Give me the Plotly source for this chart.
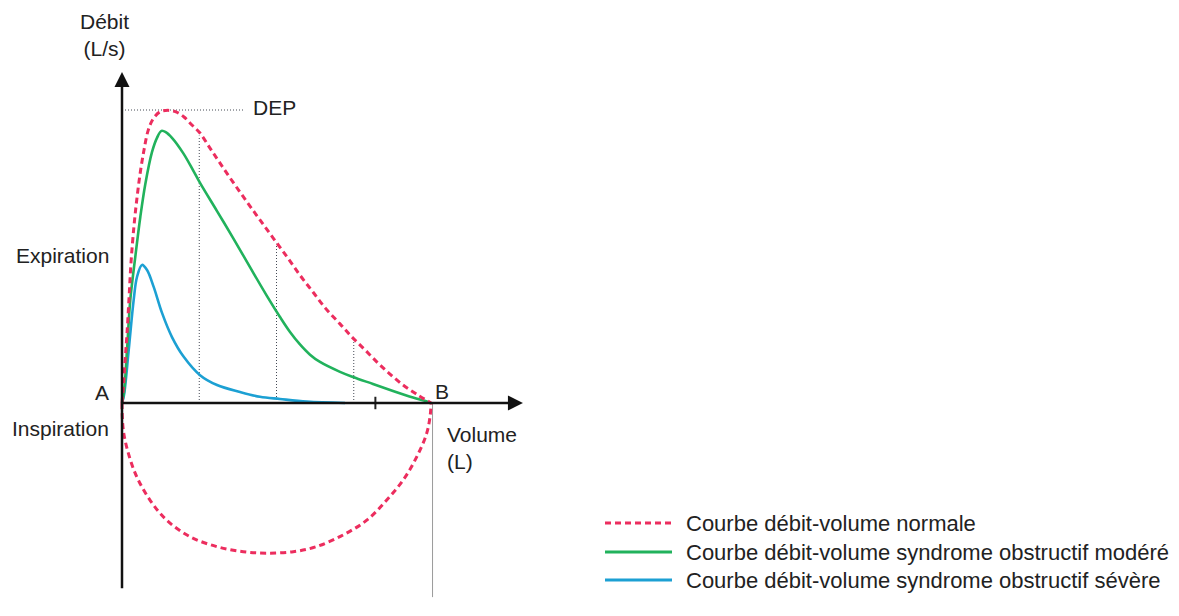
import plotly.graph_objects as go

# Page size and where point A (0 L, 0 L/s) sits on it
W, H = 1179, 616
X0_PX, Y0_PX = 122, 403
PX_PER_L, PX_PER_LS = 77.25, 36.625

# Normal flow-volume loop
vol_normal_exp = [0.0, 0.019, 0.039, 0.065, 0.091, 0.117, 0.155, 0.194, 0.239, 0.285, 0.337, 0.401,
                  0.492, 0.595, 0.699, 0.803, 0.906, 1.010, 1.139, 1.269, 1.437, 1.618, 1.786, 1.955,
                  2.136, 2.304, 2.472, 2.641, 2.822, 2.977, 3.146, 3.314, 3.469, 3.638, 3.806, 4.0]
flow_normal_exp = [0.0, 0.49, 1.12, 1.91, 2.87, 3.85, 4.83, 5.60, 6.33, 6.91, 7.43, 7.75,
                   7.95, 7.99, 7.95, 7.81, 7.59, 7.37, 6.96, 6.55, 6.03, 5.49, 5.00, 4.51,
                   3.99, 3.49, 3.03, 2.57, 2.16, 1.80, 1.45, 1.09, 0.79, 0.49, 0.25, 0.0]
vol_normal_insp = [0.0, 0.017, 0.082, 0.190, 0.362, 0.579, 0.880, 1.226, 1.570, 1.873, 2.217,
                   2.520, 2.865, 3.168, 3.427, 3.641, 3.815, 3.944, 3.990, 4.0]
flow_normal_insp = [0.0, -0.74, -1.37, -2.01, -2.65, -3.20, -3.65, -3.92, -4.06, -4.10, -4.06,
                    -3.92, -3.60, -3.20, -2.65, -2.10, -1.47, -0.83, -0.33, 0.0]

# Moderate obstruction
vol_moderate = [0.0, 0.026, 0.065, 0.107, 0.172, 0.237, 0.302, 0.388, 0.453, 0.511, 0.570, 0.647,
                0.790, 0.919, 1.010, 1.230, 1.437, 1.657, 1.877, 2.045, 2.175, 2.304, 2.434, 2.563,
                2.822, 2.990, 3.249, 3.508, 3.767, 3.948, 4.0]
flow_moderate = [0.0, 0.30, 1.45, 2.81, 3.99, 5.08, 5.98, 6.85, 7.24, 7.43, 7.39, 7.24,
                 6.83, 6.36, 6.01, 5.24, 4.51, 3.71, 2.92, 2.35, 1.94, 1.60, 1.32, 1.12,
                 0.85, 0.71, 0.52, 0.33, 0.15, 0.04, 0.0]

# Severe obstruction
vol_severe = [0.0, 0.026, 0.087, 0.151, 0.194, 0.259, 0.324, 0.410, 0.518, 0.647, 0.799, 1.010,
              1.230, 1.528, 1.786, 2.045, 2.395, 2.887]
flow_severe = [0.0, 0.22, 1.45, 2.81, 3.44, 3.77, 3.63, 3.17, 2.46, 1.80, 1.26, 0.76,
               0.49, 0.30, 0.17, 0.11, 0.04, 0.0]

# Markers on the normal curve
dep = 8.0
dep_line_end = 1.57
dem_volumes = [1.0, 2.0, 3.0]
dem_flows = [7.3, 4.35, 1.78]
cvf = 4.0
tick_volume = 3.28

legend_names = ["Courbe débit-volume normale",
                "Courbe débit-volume syndrome obstructif modéré",
                "Courbe débit-volume syndrome obstructif sévère"]

RED, GREEN, BLUE = "#EC2D5E", "#21B25C", "#1CA0D3"
INK = "#222222"
FONT = "Liberation Sans, Arial, sans-serif"
RED_DASH = "6px,4px"

fig = go.Figure()
fig.add_trace(go.Scatter(x=vol_severe, y=flow_severe, mode="lines",
                         line=dict(color=BLUE, width=2.6, shape="spline", smoothing=1)))
fig.add_trace(go.Scatter(x=vol_moderate, y=flow_moderate, mode="lines",
                         line=dict(color=GREEN, width=2.6, shape="spline", smoothing=1)))
fig.add_trace(go.Scatter(x=vol_normal_exp, y=flow_normal_exp, mode="lines",
                         line=dict(color=RED, width=3, dash=RED_DASH, shape="spline", smoothing=1)))
fig.add_trace(go.Scatter(x=vol_normal_insp, y=flow_normal_insp, mode="lines",
                         line=dict(color=RED, width=3, dash=RED_DASH, shape="spline", smoothing=1)))

shapes = []
# DEP and the 25/50/75 % verticals
dotted = dict(color="#444a55", width=1, dash="1px,2px")
shapes.append(dict(type="line", x0=0, x1=dep_line_end, y0=dep, y1=dep, line=dotted, layer="below"))
for v, f in zip(dem_volumes, dem_flows):
    shapes.append(dict(type="line", x0=v, x1=v, y0=0, y1=f, line=dotted, layer="below"))
# thin line dropping from B
shapes.append(dict(type="line", x0=cvf + 0.02, x1=cvf + 0.02, y0=0, y1=-5.3,
                   line=dict(color="#9a9a9a", width=1), layer="below"))
# tick on the volume axis
shapes.append(dict(type="line", x0=tick_volume, x1=tick_volume, y0=-0.17, y1=0.17,
                   line=dict(color=INK, width=2)))

# legend drawn by hand (long line samples)
legend_rows = [523, 552, 580]
legend_styles = [dict(color=RED, width=3, dash=RED_DASH), dict(color=GREEN, width=3),
                 dict(color=BLUE, width=3)]
for row, st in zip(legend_rows, legend_styles):
    shapes.append(dict(type="line", xref="paper", yref="paper", x0=605 / W, x1=672 / W,
                       y0=1 - row / H, y1=1 - row / H, line=st))


def label(text, x, y, xanchor="center", size=21, align="center"):
    return dict(text=text, x=x / W, y=1 - y / H, xref="paper", yref="paper",
                xanchor=xanchor, yanchor="middle", showarrow=False, align=align,
                font=dict(family=FONT, size=size, color=INK))


annotations = [
    label("Débit<br>(L/s)", 104, 35),
    label("DEP", 251, 107, "left"),
    label("Expiration", 111, 255, "right"),
    label("Inspiration", 111, 428, "right"),
    label("A", 111, 392, "right"),
    label("B", 433, 391, "left"),
    label("Volume<br>(L)", 445, 448, "left", align="left"),
]
for row, name in zip(legend_rows, legend_names):
    annotations.append(label(name, 684, row, "left", 22))

# axes with arrow heads
annotations.append(dict(x=0, y=9.04, ax=0, ay=-5.1, xref="x", yref="y", axref="x", ayref="y",
                        text="", showarrow=True, arrowhead=2, arrowsize=1.2, arrowwidth=2.5,
                        arrowcolor="#111111"))
annotations.append(dict(x=5.19, y=0, ax=-0.02, ay=0, xref="x", yref="y", axref="x", ayref="y",
                        text="", showarrow=True, arrowhead=2, arrowsize=1.2, arrowwidth=2.5,
                        arrowcolor="#111111"))

fig.update_layout(
    width=W, height=H, autosize=False,
    margin=dict(l=0, r=0, t=0, b=0, pad=0),
    paper_bgcolor="white", plot_bgcolor="white",
    showlegend=False,
    xaxis=dict(visible=False, fixedrange=True,
               range=[-X0_PX / PX_PER_L, (W - X0_PX) / PX_PER_L]),
    yaxis=dict(visible=False, fixedrange=True,
               range=[-(H - Y0_PX) / PX_PER_LS, Y0_PX / PX_PER_LS]),
    shapes=shapes,
    annotations=annotations,
)

# the page's default body margin would push the figure 8px off
fig.write_html("out.html", config={"displayModeBar": False},
               post_script="document.body.style.margin = '0';")
